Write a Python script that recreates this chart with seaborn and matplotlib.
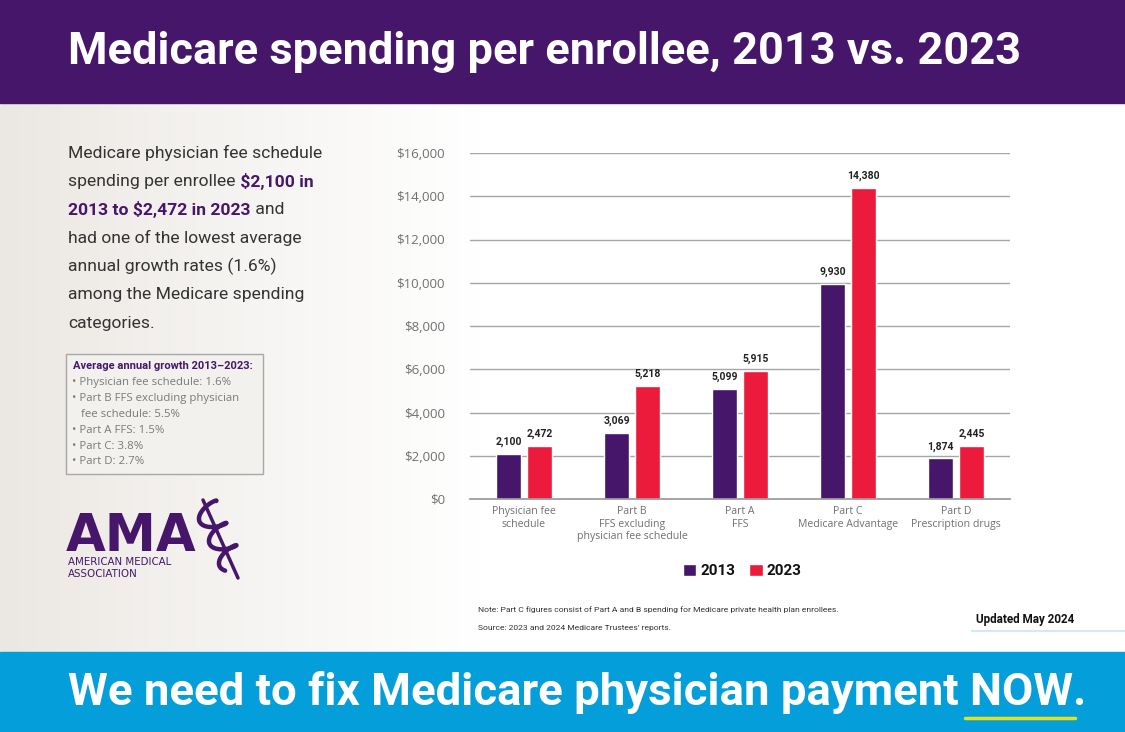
import numpy as np
import pandas as pd
import matplotlib
matplotlib.use("Agg")
import matplotlib.pyplot as plt
import seaborn as sns
from matplotlib import font_manager
from matplotlib.patches import Rectangle

# chart data
categories = [
    "Physician fee\nschedule",
    "Part B\nFFS excluding\nphysician fee schedule",
    "Part A\nFFS",
    "Part C\nMedicare Advantage",
    "Part D\nPrescription drugs",
]
years = ["2013", "2023"]
spend_2013 = [2100, 3069, 5099, 9930, 1874]
spend_2023 = [2472, 5218, 5915, 14380, 2445]
y_ticks = [0, 2000, 4000, 6000, 8000, 10000, 12000, 14000, 16000]

growth_title = "Average annual growth 2013\u20132023:"
growth_lines = [
    "\u2022 Physician fee schedule: 1.6%",
    "\u2022 Part B FFS excluding physician",
    "   fee schedule: 5.5%",
    "\u2022 Part A FFS: 1.5%",
    "\u2022 Part C: 3.8%",
    "\u2022 Part D: 2.7%",
]

PURPLE = "#46166B"
RED = "#EC1B3C"
BLUE = "#049FDA"
GREY = "#707070"

sns.set_theme(style="white")
installed = {f.name for f in font_manager.fontManager.ttflist}
NARROW = "Liberation Sans Narrow" if "Liberation Sans Narrow" in installed else "Roboto"
plt.rcParams["font.family"] = [NARROW, "DejaVu Sans"]
plt.rcParams["text.parse_math"] = False

W, H = 1125, 732
fig = plt.figure(figsize=(W / 100, H / 100), dpi=100)
renderer = fig.canvas.get_renderer()


def fx(x):
    return x / W


def fy(y):
    return 1 - y / H


# background, header and footer bands
bg = fig.add_axes([0, 0, 1, 1], zorder=-10)
bg.set_xlim(0, W)
bg.set_ylim(H, 0)
bg.axis("off")
t = np.clip(np.arange(W) / 480, 0, 1) ** 0.9
beige = np.array([235, 231, 226]) / 255
row = beige[None, :] * (1 - t[:, None]) + t[:, None]
img = np.repeat(row[None, :, :], 4, axis=0)
bg.imshow(img, extent=(0, W, 652, 103), aspect="auto")
bg.add_patch(Rectangle((0, 0), W, 103, color=PURPLE))
bg.add_patch(Rectangle((0, 652), W, 80, color=BLUE))
bg.add_patch(Rectangle((66, 354), 197, 120, facecolor="#F3F1EE", edgecolor="#A8A8A8", lw=1))
bg.plot([972, W], [631, 631], color="#D3EAF4", lw=1.5)
bg.plot([965, 1075], [718, 718], color="#E4E21C", lw=2.5, solid_capstyle="round")

# AMA logo: staff and coiled snake
s0, s1 = np.array([203.0, 500.0]), np.array([238.0, 578.0])
bg.plot([s0[0], s1[0]], [s0[1], s1[1]], color=PURPLE, lw=2.5)
tt = np.linspace(0.06, 0.82, 300)
d = (s1 - s0) / np.linalg.norm(s1 - s0)
perp = np.array([d[1], -d[0]])
ph = 2 * np.pi * 3.5 * tt
pts = (s0[None, :] + tt[:, None] * (s1 - s0)[None, :]
       + (12 * np.sin(ph))[:, None] * perp[None, :]
       + (5 * np.cos(ph))[:, None] * d[None, :])
bg.plot(pts[:, 0], pts[:, 1], color=PURPLE, lw=3.2, solid_capstyle="round")


def fit_text(x, y, s, width, **kw):
    txt = fig.text(fx(x), fy(y), s, fontsize=40, **kw)
    w = txt.get_window_extent(renderer).width
    txt.set_fontsize(40 * width / w)
    return txt


def runs(x, y, parts, size):
    for s, style in parts:
        txt = fig.text(fx(x), fy(y), s, fontsize=size, va="center", **style)
        x += txt.get_window_extent(renderer).width


fit_text(68, 52, "Medicare spending per enrollee, 2013 vs. 2023", 950,
         color="white", fontweight="bold", va="center")
fit_text(68, 692, "We need to fix Medicare physician payment NOW.", 1017,
         color="white", fontweight="bold", va="center")

plain = {"color": "#333333"}
strong = {"color": PURPLE, "fontweight": "bold"}
para = [
    [("Medicare physician fee schedule", plain)],
    [("spending per enrollee", plain), (" $2,100 in", strong)],
    [("2013 to $2,472 in 2023", strong), (" and", plain)],
    [("had one of the lowest average", plain)],
    [("annual growth rates (1.6%)", plain)],
    [("among the Medicare spending", plain)],
    [("categories.", plain)],
]
for i, parts in enumerate(para):
    runs(68, 153 + 28.4 * i, parts, 12.6)

fig.text(fx(73), fy(366), growth_title, fontsize=8, fontweight="bold", color=PURPLE, va="center")
for i, line in enumerate(growth_lines):
    fig.text(fx(72), fy(383 + 15.8 * i), line, fontsize=8.2, color="#7a7a7a", va="center",
             family="Open Sans")

fig.text(fx(66), fy(551), "AMA", fontsize=37, fontweight="bold", color=PURPLE,
         family="DejaVu Sans", va="baseline")
fig.text(fx(68), fy(562), "AMERICAN MEDICAL", fontsize=7.4, color=PURPLE, family="DejaVu Sans", va="center")
fig.text(fx(68), fy(574), "ASSOCIATION", fontsize=7.4, color=PURPLE, family="DejaVu Sans", va="center")

fig.text(fx(478), fy(610), "Note: Part C figures consist of Part A and B spending for Medicare private health plan enrollees.",
         fontsize=6.1, color="#333333", va="center")
fig.text(fx(478), fy(628), "Source: 2023 and 2024 Medicare Trustees\u2019 reports.",
         fontsize=6.1, color="#333333", va="center")
fig.text(fx(976), fy(620), "Updated May 2024", fontsize=8.4, fontweight="bold", color="#111111", va="center")

# bar chart
df = pd.DataFrame({
    "category": categories * 2,
    "year": [years[0]] * len(categories) + [years[1]] * len(categories),
    "spend": spend_2013 + spend_2023,
})
ax = fig.add_axes([fx(470), fy(499), 540 / W, 346 / H])
sns.barplot(data=df, x="category", y="spend", hue="year", order=categories, hue_order=years,
            palette=[PURPLE, RED], saturation=1, width=0.574, gap=0.19, errorbar=None, ax=ax)
ax.patch.set_alpha(0)
ax.set_xlim(-0.5, 4.5)
ax.set_ylim(0, 16000)
ax.set_yticks(y_ticks)
ax.set_yticklabels([f"${v:,}" for v in y_ticks], family="Open Sans")
ax.yaxis.grid(True, color="#A6A6A6", lw=1)
ax.set_axisbelow(True)
for side in ["top", "right", "left"]:
    ax.spines[side].set_visible(False)
ax.spines["bottom"].set_color("#9a9a9a")
ax.tick_params(axis="y", length=0, pad=18, labelsize=9.5, labelcolor=GREY)
ax.tick_params(axis="x", length=0, pad=5, labelsize=7.6, labelcolor=GREY)
for lab in ax.get_xticklabels():
    lab.set_family("Open Sans")
ax.set_xlabel("")
ax.set_ylabel("")

for cont in ax.containers:
    ax.bar_label(cont, labels=[f"{v:,.0f}" for v in cont.datavalues], padding=5,
                 fontsize=7.5, fontweight="bold", color="#222222")

sns.move_legend(ax, "center", bbox_to_anchor=(fx(742), fy(571)), bbox_transform=fig.transFigure,
                ncol=2, title=None, frameon=False, handlelength=0.9, handleheight=0.9,
                handletextpad=0.25, columnspacing=0.9, fontsize=11)
for txt in ax.get_legend().get_texts():
    txt.set_fontweight("bold")
    txt.set_color("#111111")

fig.savefig("out.png", dpi=100)
